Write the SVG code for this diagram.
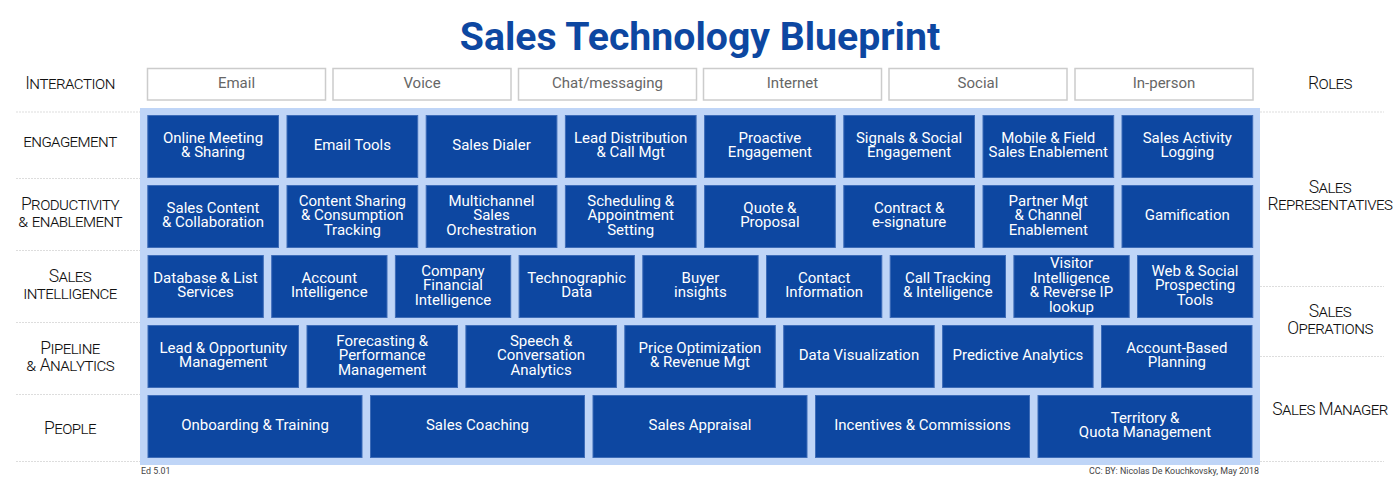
<svg xmlns="http://www.w3.org/2000/svg" width="1400" height="482" viewBox="0 0 1400 482">
<style>
text{font-family:Roboto,"Liberation Sans",sans-serif;text-anchor:middle}
.title{font-size:39.200px;font-weight:700;fill:#0d47a1}
.c{fill:#0d47a1;stroke:#3d6cb8;stroke-width:1}
.c1{width:130.700px;height:62px}
.c3{width:115.300px;height:62px}
.c4{width:150.500px;height:62px}
.c5{width:214px;height:62px}
.t{font-size:15px;fill:#fff;transform:translateY(-.5px)}
.b{fill:#fff;stroke:#ccc;stroke-width:1.500;width:178px;height:31.500px}
.bt{font-size:15px;fill:#666}
.l{font-size:17.500px;font-weight:300;font-variant:small-caps;letter-spacing:-.55px;fill:#111}
.s{stroke:#ddd;stroke-width:1;stroke-dasharray:2 1;fill:none}
.f{font-size:8.900px;fill:#444}
</style>
<rect width="1400" height="482" fill="#fff"/>
<text class="title" x="700" y="50">Sales Technology Blueprint</text>
<g id="separators">
<path class="s" d="M16 112H140M16 178.500H140M16 250.500H140M16 322.500H140M16 394.500H140M16 461.500H140M1260 112H1384M1260 286.500H1384M1260 356.500H1384M1260 461.500H1384"/>
</g>
<g id="interaction-row-label"><text class="l" x="70" y="89">Interaction</text></g>
<g id="label-engagement"><text class="l" x="70" y="147">engagement</text></g>
<g id="label-productivity"><text class="l" x="70" y="210">Productivity</text><text class="l" x="70" y="227">&amp; enablement</text></g>
<g id="label-sales-intelligence"><text class="l" x="70" y="282">Sales</text><text class="l" x="70" y="299">intelligence</text></g>
<g id="label-pipeline"><text class="l" x="70" y="354">Pipeline</text><text class="l" x="70" y="371">&amp; Analytics</text></g>
<g id="label-people"><text class="l" x="70" y="434">People</text></g>
<g id="role-roles"><text class="l" x="1330" y="89">Roles</text></g>
<g id="role-sales-representatives"><text class="l" x="1330" y="193">Sales</text><text class="l" x="1330" y="210">Representatives</text></g>
<g id="role-sales-operations"><text class="l" x="1330" y="317">Sales</text><text class="l" x="1330" y="334">Operations</text></g>
<g id="role-sales-manager"><text class="l" x="1330" y="415">Sales Manager</text></g>
<g id="channel-email"><rect class="b" x="147.500" y="68.500"/><text class="bt" x="236.500" y="88">Email</text></g>
<g id="channel-voice"><rect class="b" x="333" y="68.500"/><text class="bt" x="422" y="88">Voice</text></g>
<g id="channel-chat"><rect class="b" x="518.500" y="68.500"/><text class="bt" x="607.500" y="88">Chat/messaging</text></g>
<g id="channel-internet"><rect class="b" x="703.500" y="68.500"/><text class="bt" x="792.500" y="88">Internet</text></g>
<g id="channel-social"><rect class="b" x="889" y="68.500"/><text class="bt" x="978" y="88">Social</text></g>
<g id="channel-in-person"><rect class="b" x="1075" y="68.500"/><text class="bt" x="1164" y="88">In-person</text></g>
<rect id="panel" x="140" y="108" width="1120" height="357" fill="#bfd5f7"/>
<g id="r1-1"><rect class="c c1" x="147.800" y="115.500"/><text class="t" x="213" y="143.300">Online Meeting</text><text class="t" x="213" y="157.800">&amp; Sharing</text></g>
<g id="r1-2"><rect class="c c1" x="287" y="115.500"/><text class="t" x="352.300" y="150.500">Email Tools</text></g>
<g id="r1-3"><rect class="c c1" x="426.200" y="115.500"/><text class="t" x="491.500" y="150.500">Sales Dialer</text></g>
<g id="r1-4"><rect class="c c1" x="565.400" y="115.500"/><text class="t" x="630.700" y="143.300">Lead Distribution</text><text class="t" x="630.700" y="157.800">&amp; Call Mgt</text></g>
<g id="r1-5"><rect class="c c1" x="704.600" y="115.500"/><text class="t" x="769.900" y="143.300">Proactive</text><text class="t" x="769.900" y="157.800">Engagement</text></g>
<g id="r1-6"><rect class="c c1" x="843.800" y="115.500"/><text class="t" x="909.100" y="143.300">Signals &amp; Social</text><text class="t" x="909.100" y="157.800">Engagement</text></g>
<g id="r1-7"><rect class="c c1" x="983" y="115.500"/><text class="t" x="1048.300" y="143.300">Mobile &amp; Field</text><text class="t" x="1048.300" y="157.800">Sales Enablement</text></g>
<g id="r1-8"><rect class="c c1" x="1122" y="115.500"/><text class="t" x="1187.300" y="143.300">Sales Activity</text><text class="t" x="1187.300" y="157.800">Logging</text></g>
<g id="r2-1"><rect class="c c1" x="147.800" y="185.500"/><text class="t" x="213" y="213.300">Sales Content</text><text class="t" x="213" y="227.800">&amp; Collaboration</text></g>
<g id="r2-2"><rect class="c c1" x="287" y="185.500"/><text class="t" x="352.300" y="206">Content Sharing</text><text class="t" x="352.300" y="220.500">&amp; Consumption</text><text class="t" x="352.300" y="235">Tracking</text></g>
<g id="r2-3"><rect class="c c1" x="426.200" y="185.500"/><text class="t" x="491.500" y="206">Multichannel</text><text class="t" x="491.500" y="220.500">Sales</text><text class="t" x="491.500" y="235">Orchestration</text></g>
<g id="r2-4"><rect class="c c1" x="565.400" y="185.500"/><text class="t" x="630.700" y="206">Scheduling &amp;</text><text class="t" x="630.700" y="220.500">Appointment</text><text class="t" x="630.700" y="235">Setting</text></g>
<g id="r2-5"><rect class="c c1" x="704.600" y="185.500"/><text class="t" x="769.900" y="213.300">Quote &amp;</text><text class="t" x="769.900" y="227.800">Proposal</text></g>
<g id="r2-6"><rect class="c c1" x="843.800" y="185.500"/><text class="t" x="909.100" y="213.300">Contract &amp;</text><text class="t" x="909.100" y="227.800">e-signature</text></g>
<g id="r2-7"><rect class="c c1" x="983" y="185.500"/><text class="t" x="1048.300" y="206">Partner Mgt</text><text class="t" x="1048.300" y="220.500">&amp; Channel</text><text class="t" x="1048.300" y="235">Enablement</text></g>
<g id="r2-8"><rect class="c c1" x="1122" y="185.500"/><text class="t" x="1187.300" y="220.500">Gamification</text></g>
<g id="r3-1"><rect class="c c3" x="148" y="255.500"/><text class="t" x="205.500" y="283.300">Database &amp; List</text><text class="t" x="205.500" y="297.800">Services</text></g>
<g id="r3-2"><rect class="c c3" x="271.700" y="255.500"/><text class="t" x="329.300" y="283.300">Account</text><text class="t" x="329.300" y="297.800">Intelligence</text></g>
<g id="r3-3"><rect class="c c3" x="395.400" y="255.500"/><text class="t" x="453" y="276">Company</text><text class="t" x="453" y="290.500">Financial</text><text class="t" x="453" y="305">Intelligence</text></g>
<g id="r3-4"><rect class="c c3" x="519.100" y="255.500"/><text class="t" x="576.700" y="283.300">Technographic</text><text class="t" x="576.700" y="297.800">Data</text></g>
<g id="r3-5"><rect class="c c3" x="642.800" y="255.500"/><text class="t" x="700.400" y="283.300">Buyer</text><text class="t" x="700.400" y="297.800">insights</text></g>
<g id="r3-6"><rect class="c c3" x="766.500" y="255.500"/><text class="t" x="824.100" y="283.300">Contact</text><text class="t" x="824.100" y="297.800">Information</text></g>
<g id="r3-7"><rect class="c c3" x="890.200" y="255.500"/><text class="t" x="947.800" y="283.300">Call Tracking</text><text class="t" x="947.800" y="297.800">&amp; Intelligence</text></g>
<g id="r3-8"><rect class="c c3" x="1013.900" y="255.500"/><text class="t" x="1071.500" y="268.500">Visitor</text><text class="t" x="1071.500" y="283">Intelligence</text><text class="t" x="1071.500" y="297.500">&amp; Reverse IP</text><text class="t" x="1071.500" y="312">lookup</text></g>
<g id="r3-9"><rect class="c c3" x="1137.500" y="255.500"/><text class="t" x="1195" y="276">Web &amp; Social</text><text class="t" x="1195" y="290.500">Prospecting</text><text class="t" x="1195" y="305">Tools</text></g>
<g id="r4-1"><rect class="c c4" x="148" y="325.500"/><text class="t" x="223.300" y="353.300">Lead &amp; Opportunity</text><text class="t" x="223.300" y="367.800">Management</text></g>
<g id="r4-2"><rect class="c c4" x="307" y="325.500"/><text class="t" x="382.200" y="346">Forecasting &amp;</text><text class="t" x="382.200" y="360.500">Performance</text><text class="t" x="382.200" y="375">Management</text></g>
<g id="r4-3"><rect class="c c4" x="465.900" y="325.500"/><text class="t" x="541.100" y="346">Speech &amp;</text><text class="t" x="541.100" y="360.500">Conversation</text><text class="t" x="541.100" y="375">Analytics</text></g>
<g id="r4-4"><rect class="c c4" x="624.800" y="325.500"/><text class="t" x="700" y="353.300">Price Optimization</text><text class="t" x="700" y="367.800">&amp; Revenue Mgt</text></g>
<g id="r4-5"><rect class="c c4" x="783.700" y="325.500"/><text class="t" x="859" y="360.500">Data Visualization</text></g>
<g id="r4-6"><rect class="c c4" x="942.600" y="325.500"/><text class="t" x="1017.900" y="360.500">Predictive Analytics</text></g>
<g id="r4-7"><rect class="c c4" x="1101.500" y="325.500"/><text class="t" x="1176.800" y="353.300">Account-Based</text><text class="t" x="1176.800" y="367.800">Planning</text></g>
<g id="r5-1"><rect class="c c5" x="148" y="395.500"/><text class="t" x="255" y="430.500">Onboarding &amp; Training</text></g>
<g id="r5-2"><rect class="c c5" x="370.500" y="395.500"/><text class="t" x="477.500" y="430.500">Sales Coaching</text></g>
<g id="r5-3"><rect class="c c5" x="593" y="395.500"/><text class="t" x="700" y="430.500">Sales Appraisal</text></g>
<g id="r5-4"><rect class="c c5" x="815.500" y="395.500"/><text class="t" x="922.500" y="430.500">Incentives &amp; Commissions</text></g>
<g id="r5-5"><rect class="c c5" x="1038" y="395.500"/><text class="t" x="1145" y="423.300">Territory &amp;</text><text class="t" x="1145" y="437.800">Quota Management</text></g>
<text class="f" x="141" y="474" style="text-anchor:start">Ed 5.01</text>
<text class="f" x="1259" y="474" style="text-anchor:end">CC: BY: Nicolas De Kouchkovsky, May 2018</text>
</svg>
